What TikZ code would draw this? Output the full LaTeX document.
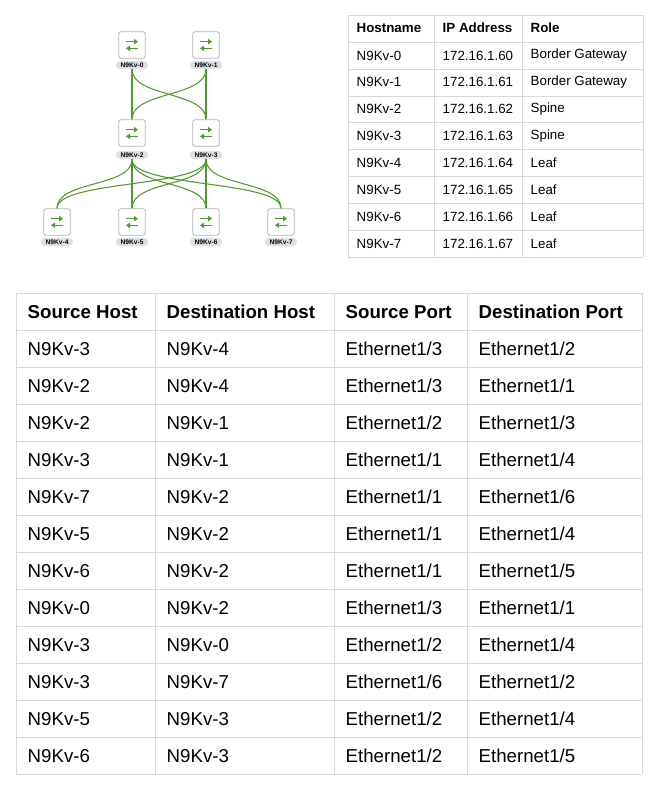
\documentclass[tikz,border=0pt]{standalone}
\usepackage{fontspec}
\setmainfont{Liberation Sans}
\usetikzlibrary{arrows.meta}
\definecolor{linkgreen}{HTML}{4E9A2A}
\definecolor{gridgray}{HTML}{D6D9DD}
\definecolor{pillgray}{HTML}{DDE1E6}
\tikzstyle{switch}=[draw=gray!60,fill=white,rounded corners=2pt,minimum size=20pt,line width=0.6pt,
  path picture={
    \draw[linkgreen,line width=1pt,-{Triangle[length=3pt,width=4pt]}]
      ([xshift=-4.5pt,yshift=2.5pt]path picture bounding box.center) -- ++(9pt,0);
    \draw[linkgreen,line width=1pt,-{Triangle[length=3pt,width=4pt]}]
      ([xshift=4.5pt,yshift=-2.5pt]path picture bounding box.center) -- ++(-9pt,0);}]
\tikzstyle{tag}=[fill=pillgray,rounded corners=3pt,font=\fontsize{5}{6}\selectfont\bfseries,inner xsep=3.5pt,inner ysep=1.3pt]
\tikzstyle{link}=[linkgreen,line width=0.8pt]
\tikzstyle{small}=[anchor=west,font=\fontsize{10}{12}\selectfont]
\tikzstyle{big}=[anchor=west,font=\fontsize{14}{16}\selectfont]
\begin{document}
\begin{tikzpicture}[x=0.75pt,y=-0.75pt]
\useasboundingbox (0,0) rectangle (658,792);
% topology
\node[switch] (s0) at (132,45)  {}; \node[tag] (l0) at (132,65)  {N9Kv-0};
\node[switch] (s1) at (206,45)  {}; \node[tag] (l1) at (206,65)  {N9Kv-1};
\node[switch] (s2) at (132,133) {}; \node[tag] (l2) at (132,155) {N9Kv-2};
\node[switch] (s3) at (206,133) {}; \node[tag] (l3) at (206,155) {N9Kv-3};
\node[switch] (s4) at (57,222)  {}; \node[tag] (l4) at (57,242)  {N9Kv-4};
\node[switch] (s5) at (132,222) {}; \node[tag] (l5) at (132,242) {N9Kv-5};
\node[switch] (s6) at (206,222) {}; \node[tag] (l6) at (206,242) {N9Kv-6};
\node[switch] (s7) at (281,222) {}; \node[tag] (l7) at (281,242) {N9Kv-7};
\foreach \a/\b in {0/2,0/3,1/2,1/3,2/4,2/5,2/6,2/7,3/4,3/5,3/6,3/7}
  \draw[link] (l\a.south) .. controls +(0,28) and +(0,-28) .. (s\b.north);
% host table
\foreach \y in {15,42,69,96,122,149,176,203,230,257}
  \draw[gridgray,line width=0.6pt] (348,\y) -- (643,\y);
\foreach \x in {348,434,522,643}
  \draw[gridgray,line width=0.6pt] (\x,15) -- (\x,257);
\node[small,font=\fontsize{10}{12}\selectfont\bfseries] (h1) at (352,28) {Hostname};
\node[small,font=\fontsize{10}{12}\selectfont\bfseries] (h2) at (438,28) {IP Address};
\node[small,font=\fontsize{10}{12}\selectfont\bfseries] (h3) at (526,28) {Role};
\foreach \i/\r in {0/Border Gateway,1/Border Gateway,2/Spine,3/Spine,4/Leaf,5/Leaf,6/Leaf,7/Leaf}{
  \node[small] (n\i) at (352,{55.5+26.85*\i}) {N9Kv-\i};
  \node[small] (ip\i) at (438,{55.5+26.85*\i}) {172.16.1.6\i};
  \node[small] (r\i) at (526,{55.5+26.85*\i}) {\r};
}
% link table
\foreach \k in {0,...,13}
  \draw[gridgray,line width=0.6pt] (16,{293+37*\k}) -- (642,{293+37*\k});
\foreach \x in {16,155,334,467,642}
  \draw[gridgray,line width=0.6pt] (\x,293) -- (\x,774);
\node[big,font=\fontsize{14}{16}\selectfont\bfseries] (c1) at (23,312) {Source Host};
\node[big,font=\fontsize{14}{16}\selectfont\bfseries] (c2) at (162,312) {Destination Host};
\node[big,font=\fontsize{14}{16}\selectfont\bfseries] (c3) at (341,312) {Source Port};
\node[big,font=\fontsize{14}{16}\selectfont\bfseries] (c4) at (474,312) {Destination Port};
\foreach \sh/\dh/\sp/\dp [count=\k] in {3/4/3/2,2/4/3/1,2/1/2/3,3/1/1/4,7/2/1/6,5/2/1/4,6/2/1/5,0/2/3/1,3/0/2/4,3/7/6/2,5/3/2/4,6/3/2/5}{
  \node[big] (a\k) at (23,{312+37*\k}) {N9Kv-\sh};
  \node[big] (b\k) at (162,{312+37*\k}) {N9Kv-\dh};
  \node[big] (p\k) at (341,{312+37*\k}) {Ethernet1/\sp};
  \node[big] (q\k) at (474,{312+37*\k}) {Ethernet1/\dp};
}
\end{tikzpicture}
\end{document}
